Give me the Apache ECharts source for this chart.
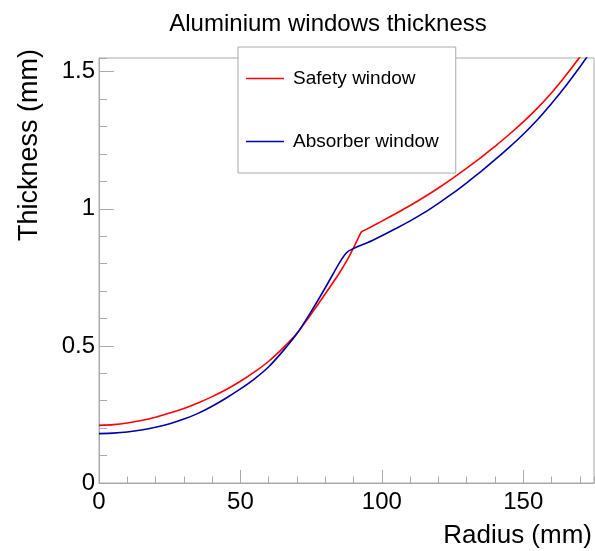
<!DOCTYPE html>
<html>
<head>
<meta charset="utf-8">
<script src="https://cdn.jsdelivr.net/npm/echarts@6/dist/echarts.min.js"></script>
<style>
  html, body { margin: 0; padding: 0; background: #fff; }
  #chart { width: 595px; height: 551px; }
</style>
</head>
<body>
<div id="chart"></div>
<script>
// Window thickness profiles versus radius
const safetyRadius = [0, 5, 10, 15, 20, 25, 30, 35, 40, 45, 50, 55, 60, 65, 70, 75, 80, 85, 88, 91, 92.8, 94.5,
  100, 105, 110, 115, 120, 125, 130, 135, 140, 145, 150, 155, 160, 165, 170, 175];
const safetyThickness = [0.210, 0.213, 0.219, 0.228, 0.240, 0.255, 0.272, 0.292, 0.315, 0.341, 0.371, 0.405,
  0.444, 0.492, 0.546, 0.616, 0.690, 0.766, 0.818, 0.879, 0.916, 0.925,
  0.955, 0.983, 1.012, 1.043, 1.076, 1.111, 1.148, 1.187, 1.228, 1.271, 1.317, 1.367, 1.423, 1.486, 1.554, 1.626];

const absorberRadius = [0, 5, 10, 15, 20, 25, 30, 35, 40, 45, 50, 55, 60, 65, 70, 75, 80, 85, 87.5, 89.5,
  95, 100, 105, 110, 115, 120, 125, 130, 135, 140, 145, 150, 155, 160, 165, 170, 175];
const absorberThickness = [0.180, 0.182, 0.186, 0.193, 0.203, 0.216, 0.233, 0.254, 0.280, 0.310, 0.343, 0.380,
  0.424, 0.481, 0.545, 0.625, 0.712, 0.803, 0.840, 0.853,
  0.877, 0.902, 0.928, 0.956, 0.986, 1.020, 1.056, 1.095, 1.136, 1.179, 1.224, 1.272, 1.325, 1.384, 1.448, 1.517, 1.591];

const seriesNames = ['Safety window', 'Absorber window'];
const xRange = [0, 175];
const yRange = [0, 1.55];

const pairs = (xs, ys) => xs.map((x, i) => [x, ys[i]]);

const FONT = 'Liberation Sans, Arial, Helvetica, sans-serif';
const AXIS_GREY = '#aaaaaa';
const RED = '#ff0000';
const BLUE = '#0000a8';

const chart = echarts.init(document.getElementById('chart'), null, { renderer: 'canvas' });

const gridBox = { left: 99, top: 58, width: 495, height: 425 };

chart.setOption({
  backgroundColor: '#ffffff',
  animation: false,
  title: {
    text: 'Aluminium windows thickness',
    left: 323,
    top: 7,
    textAlign: 'center',
    textStyle: { fontFamily: FONT, fontSize: 24, fontWeight: 'normal', color: '#000' }
  },
  legend: {
    orient: 'vertical',
    left: 238,
    top: 47,
    padding: [22, 17, 22, 8],
    itemWidth: 38,
    itemHeight: 1.6,
    itemGap: 44,
    icon: 'rect',
    backgroundColor: '#ffffff',
    borderColor: AXIS_GREY,
    borderWidth: 1,
    textStyle: { fontFamily: FONT, fontSize: 19, color: '#000', padding: [0, 0, 0, 4] },
    data: seriesNames
  },
  grid: Object.assign({ show: true, borderColor: AXIS_GREY, borderWidth: 1, backgroundColor: 'transparent' }, gridBox),
  xAxis: [
    {
      type: 'value', min: xRange[0], max: xRange[1], interval: 50, position: 'bottom',
      axisLine: { show: true, lineStyle: { color: AXIS_GREY, width: 1 } },
      axisTick: { show: true, inside: true, length: 13, lineStyle: { color: AXIS_GREY } },
      axisLabel: { show: true, showMaxLabel: false, margin: 7, fontFamily: FONT, fontSize: 24, color: '#000' },
      splitLine: { show: false },
      name: 'Radius (mm)',
      nameLocation: 'end',
      nameGap: -2,
      nameTextStyle: { fontFamily: FONT, fontSize: 26, color: '#000', align: 'right', verticalAlign: 'top', padding: [40, 0, 0, 0] }
    },
    {
      // minor ticks every 10 mm
      type: 'value', min: xRange[0], max: xRange[1], interval: 10, position: 'bottom',
      axisLine: { show: false },
      axisTick: { show: true, inside: true, length: 6.5, lineStyle: { color: AXIS_GREY } },
      axisLabel: { show: false },
      splitLine: { show: false }
    }
  ],
  yAxis: [
    {
      type: 'value', min: yRange[0], max: yRange[1], interval: 0.5, position: 'left',
      axisLine: { show: true, lineStyle: { color: AXIS_GREY, width: 1 } },
      axisTick: { show: true, inside: true, length: 15, lineStyle: { color: AXIS_GREY } },
      axisLabel: { show: true, showMaxLabel: false, margin: 4, fontFamily: FONT, fontSize: 24, color: '#000' },
      splitLine: { show: false }
    },
    {
      // minor ticks every 0.1 mm
      type: 'value', min: yRange[0], max: yRange[1], interval: 0.1, position: 'left',
      axisLine: { show: false },
      axisTick: { show: true, inside: true, length: 8, lineStyle: { color: AXIS_GREY } },
      axisLabel: { show: false },
      splitLine: { show: false }
    }
  ],
  graphic: [
    {
      type: 'text',
      x: 30,
      y: 49,
      rotation: Math.PI / 2,
      style: {
        text: 'Thickness (mm)',
        font: '27px ' + FONT,
        fill: '#000',
        align: 'right',
        verticalAlign: 'middle'
      }
    }
  ],
  series: [
    {
      name: seriesNames[0],
      type: 'line',
      xAxisIndex: 0, yAxisIndex: 0,
      data: pairs(safetyRadius, safetyThickness),
      symbol: 'none',
      smooth: 0.2,
      clip: true,
      lineStyle: { color: RED, width: 1.6 },
      itemStyle: { color: RED }
    },
    {
      name: seriesNames[1],
      type: 'line',
      xAxisIndex: 0, yAxisIndex: 0,
      data: pairs(absorberRadius, absorberThickness),
      symbol: 'none',
      smooth: 0.2,
      clip: true,
      lineStyle: { color: BLUE, width: 1.6 },
      itemStyle: { color: BLUE }
    }
  ]
});
</script>
</body>
</html>
